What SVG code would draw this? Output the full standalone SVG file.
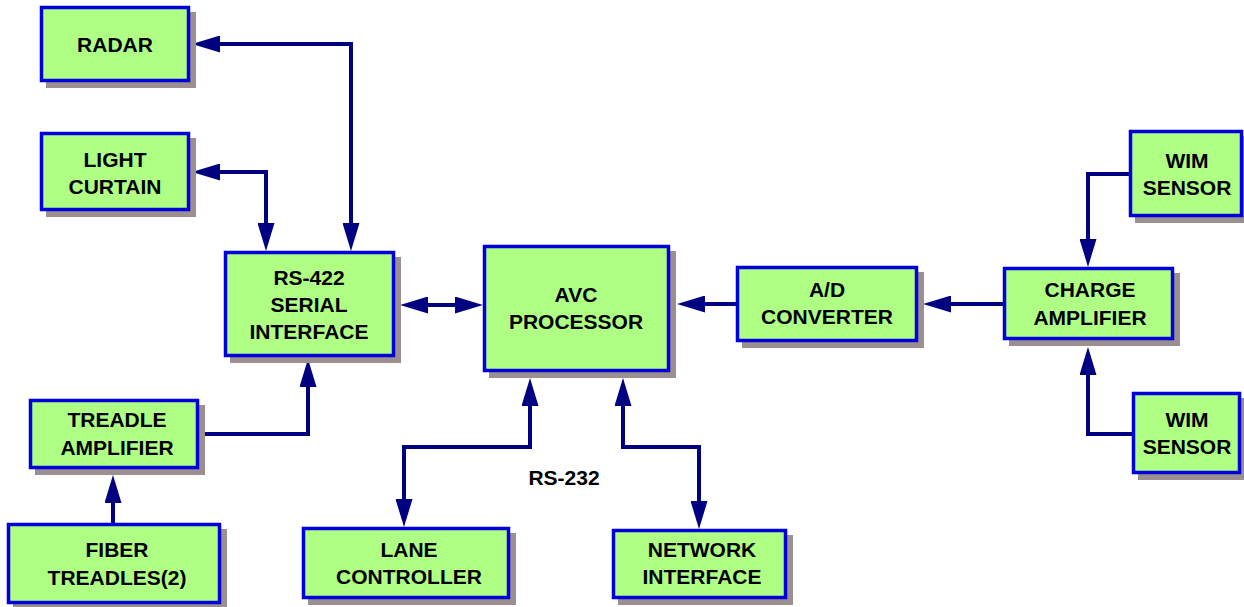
<svg xmlns="http://www.w3.org/2000/svg" width="1244" height="607" viewBox="0 0 1244 607">
<style>
.shadow{fill:#9b8f8f}
.box{fill:#b0ff85;stroke:#0000dd;stroke-width:3.5}
.t{font-family:"Liberation Sans",Arial,sans-serif;font-weight:bold;font-size:21px;fill:#000;text-anchor:middle}
.c{fill:none;stroke:#000080;stroke-width:4}
</style>
<defs>
<marker id="ah" markerUnits="userSpaceOnUse" markerWidth="28" markerHeight="17" refX="8" refY="8.5" orient="auto-start-reverse" viewBox="0 0 28 17">
<path d="M0,0 L28,8.5 L0,17 z" fill="#000080"/>
</marker>
</defs>
<rect width="1244" height="607" fill="#fff"/>
<g id="connectors">
<path class="c" d="M212,44 H351 V231" marker-start="url(#ah)" marker-end="url(#ah)"/>
<path class="c" d="M212,172 H266 V231" marker-start="url(#ah)" marker-end="url(#ah)"/>
<path class="c" d="M199,434 H308 V379" marker-end="url(#ah)"/>
<path class="c" d="M113,523 V495" marker-end="url(#ah)"/>
<path class="c" d="M420,305 H463" marker-start="url(#ah)" marker-end="url(#ah)"/>
<path class="c" d="M530,398 V447 H404 V507" marker-start="url(#ah)" marker-end="url(#ah)"/>
<path class="c" d="M623,398 V447 H699 V509" marker-start="url(#ah)" marker-end="url(#ah)"/>
<path class="c" d="M736,304 H697" marker-end="url(#ah)"/>
<path class="c" d="M1003,304 H943" marker-end="url(#ah)"/>
<path class="c" d="M1129,174 H1088 V247" marker-end="url(#ah)"/>
<path class="c" d="M1132,434 H1088 V367" marker-end="url(#ah)"/>
</g>
<g id="radar"><rect class="shadow" x="46" y="12" width="150" height="76"/><rect class="box" x="41.5" y="7.5" width="147" height="73"/><text class="t" x="115" y="52">RADAR</text></g>
<g id="light-curtain"><rect class="shadow" x="46" y="138" width="150" height="79"/><rect class="box" x="41.5" y="133.5" width="147" height="76"/><text class="t" x="115" y="167">LIGHT</text><text class="t" x="115" y="194">CURTAIN</text></g>
<g id="rs422"><rect class="shadow" x="230" y="257" width="171" height="106"/><rect class="box" x="225.5" y="252.5" width="168" height="103"/><text class="t" x="309" y="285">RS-422</text><text class="t" x="309" y="312">SERIAL</text><text class="t" x="309" y="339">INTERFACE</text></g>
<g id="avc"><rect class="shadow" x="489" y="251" width="187" height="127"/><rect class="box" x="484.5" y="246.5" width="184" height="124"/><text class="t" x="576" y="302">AVC</text><text class="t" x="576" y="329">PROCESSOR</text></g>
<g id="ad"><rect class="shadow" x="742" y="272" width="182" height="76"/><rect class="box" x="737.5" y="267.5" width="179" height="73"/><text class="t" x="827" y="297">A/D</text><text class="t" x="827" y="324">CONVERTER</text></g>
<g id="charge"><rect class="shadow" x="1009" y="273" width="171" height="73"/><rect class="box" x="1004.5" y="268.5" width="168" height="70"/><text class="t" x="1090" y="297">CHARGE</text><text class="t" x="1090" y="325">AMPLIFIER</text></g>
<g id="wim1"><rect class="shadow" x="1135" y="136" width="114" height="87"/><rect class="box" x="1130.5" y="131.5" width="111" height="84"/><text class="t" x="1187" y="168">WIM</text><text class="t" x="1187" y="195">SENSOR</text></g>
<g id="wim2"><rect class="shadow" x="1138" y="398" width="109" height="82"/><rect class="box" x="1133.5" y="393.5" width="106" height="79"/><text class="t" x="1187" y="427">WIM</text><text class="t" x="1187" y="454">SENSOR</text></g>
<g id="treadle"><rect class="shadow" x="35" y="405" width="170" height="70"/><rect class="box" x="30.5" y="400.5" width="167" height="67"/><text class="t" x="117" y="427">TREADLE</text><text class="t" x="117" y="455">AMPLIFIER</text></g>
<g id="fiber"><rect class="shadow" x="13" y="529" width="214" height="81"/><rect class="box" x="8.5" y="524.5" width="211" height="78"/><text class="t" x="117" y="557">FIBER</text><text class="t" x="117" y="585">TREADLES(2)</text></g>
<g id="lane"><rect class="shadow" x="308" y="533" width="208" height="72"/><rect class="box" x="303.5" y="528.5" width="205" height="69"/><text class="t" x="409" y="557">LANE</text><text class="t" x="409" y="584">CONTROLLER</text></g>
<g id="network"><rect class="shadow" x="618" y="535" width="175" height="70"/><rect class="box" x="613.5" y="530.5" width="172" height="67"/><text class="t" x="702" y="557">NETWORK</text><text class="t" x="702" y="584">INTERFACE</text></g>
<text class="t" x="564" y="485">RS-232</text>
</svg>
